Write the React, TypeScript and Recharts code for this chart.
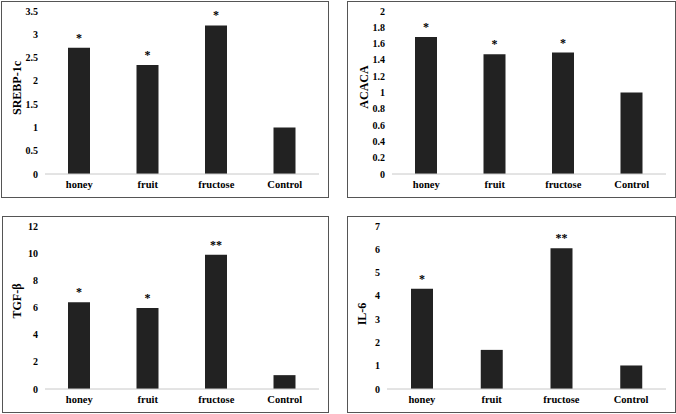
import { BarChart, Bar, XAxis, YAxis, LabelList } from "recharts";

const categories = ["honey", "fruit", "fructose", "Control"];

const srebpValues = [2.71, 2.34, 3.19, 1.0];
const srebpSig = ["*", "*", "*", ""];
const srebpTicks = [0, 0.5, 1, 1.5, 2, 2.5, 3, 3.5];

const acacaValues = [1.68, 1.47, 1.49, 1.0];
const acacaSig = ["*", "*", "*", ""];
const acacaTicks = [0, 0.2, 0.4, 0.6, 0.8, 1, 1.2, 1.4, 1.6, 1.8, 2];

const tgfValues = [6.38, 5.97, 9.88, 1.02];
const tgfSig = ["*", "*", "**", ""];
const tgfTicks = [0, 2, 4, 6, 8, 10, 12];

const il6Values = [4.3, 1.68, 6.04, 1.01];
const il6Sig = ["*", "", "**", ""];
const il6Ticks = [0, 1, 2, 3, 4, 5, 6, 7];

const FONT = '"Liberation Serif", "Times New Roman", serif';

// rotated axis title, placed at a fixed spot inside the chart
function YTitle({ text, tx, ty }: { text: string; tx: number; ty: number }) {
  return (
    <text
      x={tx}
      y={ty}
      transform={`rotate(-90, ${tx}, ${ty})`}
      textAnchor="middle"
      dominantBaseline="central"
      fontFamily={FONT}
      fontWeight="bold"
      fontSize={12}
      fill="#000"
    >
      {text}
    </text>
  );
}

type PanelProps = {
  title: string;
  values: number[];
  sig: string[];
  ticks: number[];
  left: number;
  top: number;
  width: number;
  height: number;
  yAxisWidth: number;
  titleX: number;
  titleY: number;
};

function Panel(p: PanelProps) {
  const data = categories.map((name, i) => ({
    name,
    value: p.values[i],
    sig: p.sig[i],
  }));
  const tickStyle = {
    fontFamily: FONT,
    fontWeight: "bold",
    fill: "#000",
  };
  return (
    <div
      style={{
        position: "absolute",
        left: p.left,
        top: p.top,
        width: p.width,
        height: p.height,
        border: "1px solid #555",
        boxSizing: "border-box",
        background: "#fff",
      }}
    >
      <BarChart
        width={p.width - 2}
        height={p.height - 2}
        data={data}
        margin={{ top: 9, right: 9, left: 0, bottom: 0 }}
        barSize={22}
      >
        <XAxis
          dataKey="name"
          height={23}
          interval={0}
          tickLine={false}
          tickSize={0}
          tickMargin={7}
          axisLine={{ stroke: "#c8c8c8" }}
          tick={{ ...tickStyle, fontSize: 10.5 }}
        />
        <YAxis
          width={p.yAxisWidth}
          domain={[0, p.ticks[p.ticks.length - 1]]}
          ticks={p.ticks}
          interval={0}
          axisLine={false}
          tickLine={false}
          tickSize={0}
          tickMargin={7}
          tick={{ ...tickStyle, fontSize: 10 }}
          label={<YTitle text={p.title} tx={p.titleX} ty={p.titleY} />}
        />
        <Bar dataKey="value" fill="#222" isAnimationActive={false}>
          <LabelList
            dataKey="sig"
            position="top"
            offset={6}
            fill="#000"
            fontFamily={FONT}
            fontWeight="bold"
            fontSize={12}
          />
        </Bar>
      </BarChart>
    </div>
  );
}

export default function App() {
  return (
    <div
      style={{
        position: "absolute",
        left: 0,
        top: 0,
        width: 676,
        height: 414,
        background: "#fff",
      }}
    >
      <Panel
        title="SREBP-1c"
        values={srebpValues}
        sig={srebpSig}
        ticks={srebpTicks}
        left={1}
        top={1}
        width={328}
        height={197}
        yAxisWidth={43}
        titleX={15}
        titleY={86}
      />
      <Panel
        title="ACACA"
        values={acacaValues}
        sig={acacaSig}
        ticks={acacaTicks}
        left={347}
        top={1}
        width={329}
        height={197}
        yAxisWidth={44}
        titleX={16}
        titleY={85}
      />
      <Panel
        title="TGF-β"
        values={tgfValues}
        sig={tgfSig}
        ticks={tgfTicks}
        left={2}
        top={216}
        width={327}
        height={197}
        yAxisWidth={42}
        titleX={14}
        titleY={84}
      />
      <Panel
        title="IL-6"
        values={il6Values}
        sig={il6Sig}
        ticks={il6Ticks}
        left={347}
        top={216}
        width={329}
        height={197}
        yAxisWidth={39}
        titleX={14}
        titleY={97}
      />
    </div>
  );
}
